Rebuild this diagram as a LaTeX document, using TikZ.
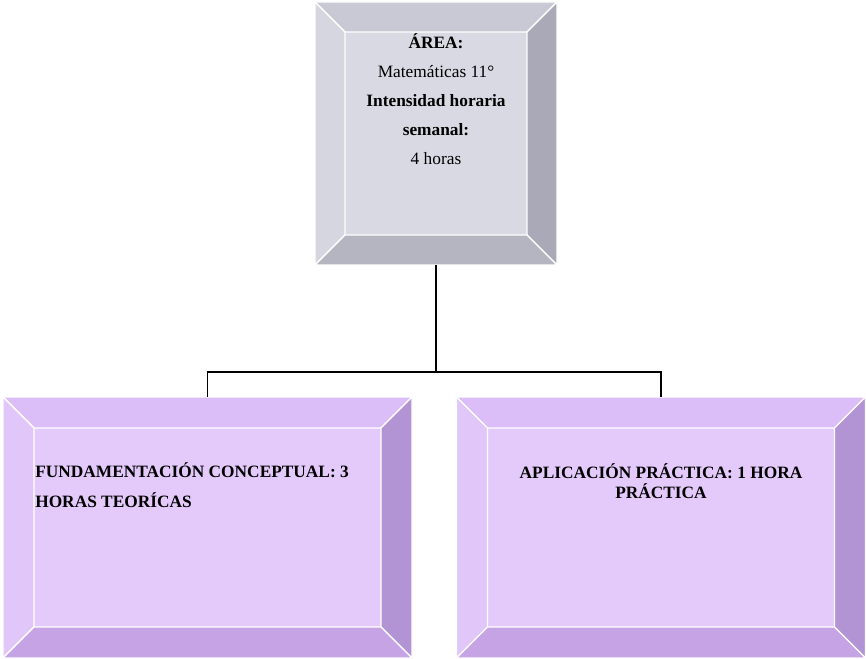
\documentclass[tikz,border=0pt]{standalone}
\usepackage{fontspec}
\setmainfont{Liberation Serif}
\usetikzlibrary{positioning, calc}
\definecolor{areaface}{HTML}{D9D9E3}
\definecolor{areatop}{HTML}{C9C9D5}
\definecolor{arealeft}{HTML}{D6D6E0}
\definecolor{arearight}{HTML}{A9A9B7}
\definecolor{areabot}{HTML}{B5B5C2}
\definecolor{lilaface}{HTML}{E4CAFB}
\definecolor{lilatop}{HTML}{DBBDF8}
\definecolor{lilaleft}{HTML}{E1C6FA}
\definecolor{lilaright}{HTML}{B293D4}
\definecolor{lilabot}{HTML}{C5A3E5}
\tikzset{
  box/.style={inner sep=0pt, outer sep=0pt},
  areabox/.style={box, fill=areaface, minimum width=181.5pt, minimum height=197.25pt},
  lilabox/.style={box, fill=lilaface, minimum width=306.75pt, minimum height=195.75pt},
  txt/.style={inner sep=0pt, font=\fontsize{13}{21.9}\selectfont},
  conn/.style={draw=black, line width=1.1pt}
}
% bevel: node, depth, top, left, right, bottom
\newcommand{\bevel}[6]{%
  \coordinate (#1nw) at ($(#1.north west)+(#2,#2)$);
  \coordinate (#1ne) at ($(#1.north east)+(-#2,#2)$);
  \coordinate (#1sw) at ($(#1.south west)+(#2,-#2)$);
  \coordinate (#1se) at ($(#1.south east)+(-#2,-#2)$);
  \filldraw[fill=#3, draw=white, line width=0.9pt]
    (#1.north west) -- (#1.north east) -- (#1ne) -- (#1nw) -- cycle;
  \filldraw[fill=#4, draw=white, line width=0.9pt]
    (#1.north west) -- (#1nw) -- (#1sw) -- (#1.south west) -- cycle;
  \filldraw[fill=#5, draw=white, line width=0.9pt]
    (#1.north east) -- (#1.south east) -- (#1se) -- (#1ne) -- cycle;
  \filldraw[fill=#6, draw=white, line width=0.9pt]
    (#1.south west) -- (#1sw) -- (#1se) -- (#1.south east) -- cycle;
}

\begin{document}
\begin{tikzpicture}[x=0.75pt, y=-0.75pt]
  \useasboundingbox (0,0) rectangle (866,659);

  \node[areabox] (area) at (436,133.5) {};
  \node[lilabox] (fund) at (207.5,527.5) {};
  \node[lilabox] (apli) at (661,527.5) {};

  \bevel{area}{30}{areatop}{arealeft}{arearight}{areabot}
  \bevel{fund}{31}{lilatop}{lilaleft}{lilaright}{lilabot}
  \bevel{apli}{31}{lilatop}{lilaleft}{lilaright}{lilabot}

  \node[txt, align=center, anchor=base] (areatxt) at (436,165)
    {\textbf{ÁREA:}\\Matemáticas 11°\\\textbf{Intensidad horaria}\\\textbf{semanal:}\\4 horas};
  \node[txt, align=left, anchor=base west, font=\fontsize{13}{22.5}\selectfont\bfseries]
    (fundtxt) at (35,507) {FUNDAMENTACIÓN CONCEPTUAL: 3\\HORAS TEORÍCAS};
  \node[txt, align=center, anchor=base, font=\fontsize{13}{15}\selectfont\bfseries]
    (aplitxt) at (661,498) {APLICACIÓN PRÁCTICA: 1 HORA\\PRÁCTICA};

  \coordinate (split) at (436,372);
  \draw[conn] (area.south) -- (split);
  \draw[conn] (split) -| (fund.north);
  \draw[conn] (split) -| (apli.north);
\end{tikzpicture}
\end{document}
